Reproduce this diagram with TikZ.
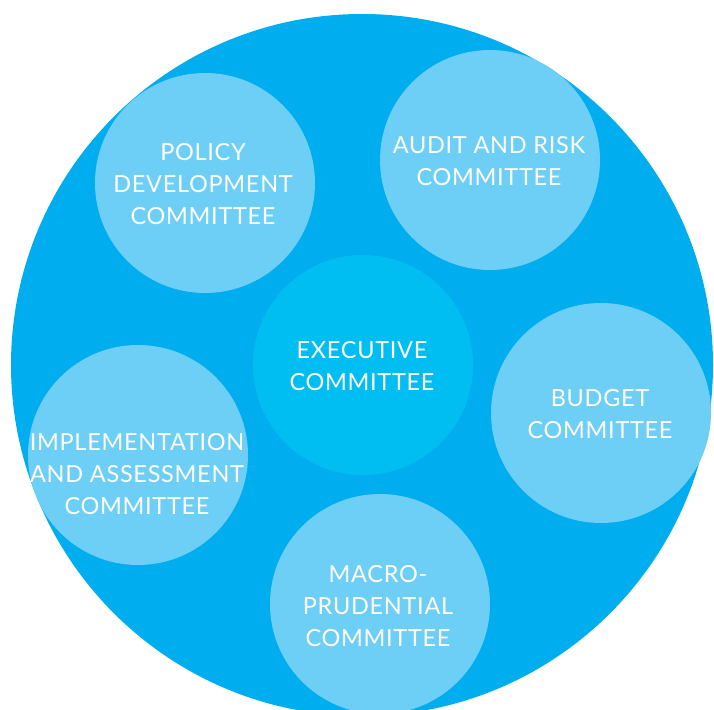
\documentclass[tikz,border=0pt]{standalone}
\usepackage{fontspec}
\setmainfont{Lato}[LetterSpace=3]
\definecolor{bigblue}{HTML}{00AEEF}
\definecolor{liteblue}{HTML}{6DCFF6}
\definecolor{execblue}{HTML}{00BDF2}
\begin{document}
\begin{tikzpicture}[x=1pt,y=-1pt,
  bubble/.style={circle,fill=liteblue,minimum size=220pt,inner sep=0pt},
  label/.style={text=white,align=center,inner sep=0pt,font=\fontsize{23.5}{32}\selectfont}]
\useasboundingbox (0,0) rectangle (714,709);
\clip (0,0) rectangle (714,709);
\node[circle,fill=bigblue,minimum size=702pt,inner sep=0pt] (outer) at (362,365) {};
\node[bubble] (policy) at (205,183) {};
\node[bubble] (audit) at (490,160) {};
\node[bubble] (budget) at (601,413) {};
\node[bubble] (impl) at (138,455) {};
\node[bubble] (macro) at (380,604) {};
\node[bubble,fill=execblue] (exec) at (363,365) {};
\node[label] (tpolicy) at (203,184) {POLICY\\DEVELOPMENT\\COMMITTEE};
\node[label] (taudit) at (489,161) {AUDIT AND RISK\\COMMITTEE};
\node[label] (texec) at (362,366) {EXECUTIVE\\COMMITTEE};
\node[label] (tbudget) at (600,414) {BUDGET\\COMMITTEE};
\node[label] (timpl) at (137,474) {IMPLEMENTATION\\AND ASSESSMENT\\COMMITTEE};
\node[label] (tmacro) at (378,606) {MACRO-\\PRUDENTIAL\\COMMITTEE};
\end{tikzpicture}
\end{document}
